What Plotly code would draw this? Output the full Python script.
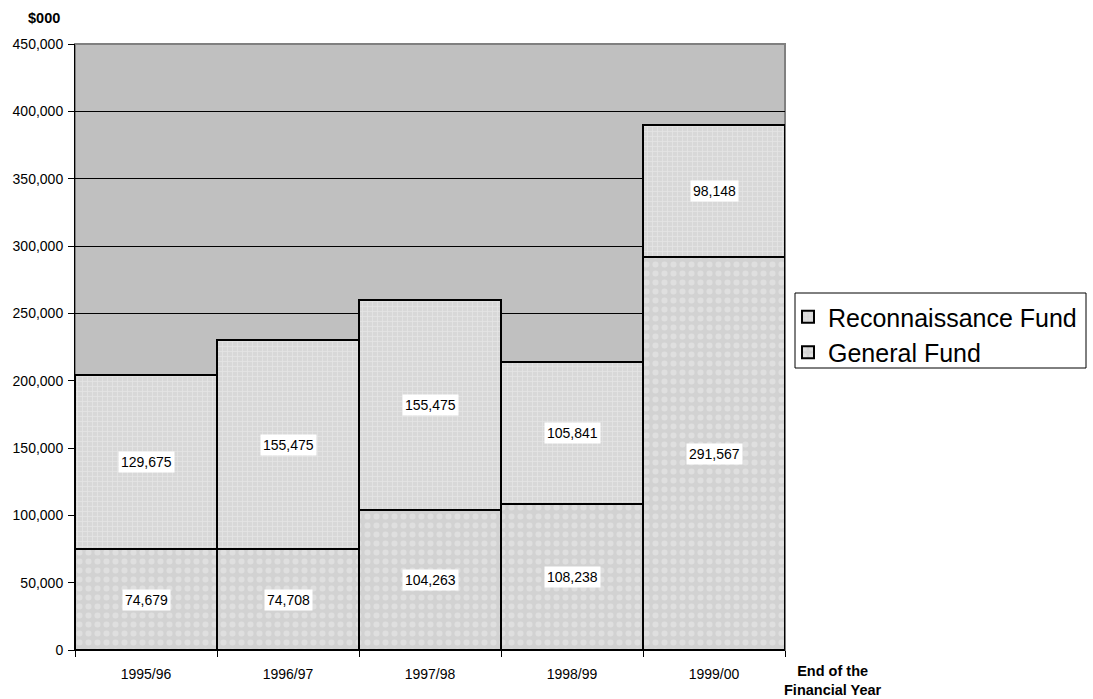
import plotly.graph_objects as go

years = ["1995/96", "1996/97", "1997/98", "1998/99", "1999/00"]
general_fund = [74679, 74708, 104263, 108238, 291567]
reconnaissance_fund = [129675, 155475, 155475, 105841, 98148]
y_ticks = [0, 50000, 100000, 150000, 200000, 250000, 300000, 350000, 400000, 450000]

FONT = "Liberation Sans, Arial, sans-serif"

# plot-area pixel box, used to place paper-referenced items
L, R, T, B = 75, 785, 44, 650
W, H = 1093, 699


def px(x):
    return (x - L) / (R - L)


def py(y):
    return (B - y) / (B - T)


fig = go.Figure()

fig.add_trace(go.Bar(
    name="General Fund",
    x=years,
    y=general_fund,
    marker=dict(
        color="#d6d6d6",
        line=dict(color="black", width=2),
        pattern=dict(shape=".", bgcolor="#d2d2d2", fgcolor="#ececec",
                     size=9, solidity=0.35, fillmode="overlay"),
    ),
))

fig.add_trace(go.Bar(
    name="Reconnaissance Fund",
    x=years,
    y=reconnaissance_fund,
    marker=dict(
        color="#dadada",
        line=dict(color="black", width=2),
        pattern=dict(shape="+", bgcolor="#d8d8d8", fgcolor="#f0f0f0",
                     size=5, solidity=0.3, fillmode="overlay"),
    ),
))

# value labels in white boxes at the middle of each segment
for yr, g, r in zip(years, general_fund, reconnaissance_fund):
    for val, mid in ((g, g / 2), (r, g + r / 2)):
        fig.add_annotation(
            x=yr, y=mid, text=f"{val:,}", showarrow=False,
            bgcolor="white", borderpad=2,
            font=dict(family=FONT, size=14, color="black"),
        )

# plot-area frame on top and right
fig.add_shape(type="rect", xref="paper", yref="paper", x0=0, x1=1, y0=0, y1=1,
              line=dict(color="#808080", width=2), layer="below")

# legend frame
fig.add_shape(type="rect", xref="paper", yref="paper",
              x0=px(795), x1=px(1086), y0=py(368), y1=py(293),
              line=dict(color="black", width=1), fillcolor="rgba(0,0,0,0)")

fig.add_annotation(xref="paper", yref="paper", x=px(26), y=py(18),
                   xanchor="left", yanchor="middle", text="<b>$000</b>",
                   showarrow=False, font=dict(family=FONT, size=14.5, color="black"))
fig.add_annotation(xref="paper", yref="paper", x=px(833), y=py(661),
                   xanchor="center", yanchor="top",
                   text="<b>End of the<br>Financial Year</b>",
                   showarrow=False, font=dict(family=FONT, size=14.5, color="black"))

fig.update_layout(
    width=W, height=H,
    barmode="stack", bargap=0,
    paper_bgcolor="white", plot_bgcolor="#c0c0c0",
    margin=dict(l=L, r=W - R, t=T, b=H - B, autoexpand=False),
    font=dict(family=FONT, size=14, color="black"),
    legend=dict(
        x=px(788), y=py(294), xanchor="left", yanchor="top",
        traceorder="reversed",
        borderwidth=0, bgcolor="rgba(0,0,0,0)",
        font=dict(family=FONT, size=25, color="black"),
        itemwidth=30, tracegroupgap=0,
    ),
    showlegend=True,
)

fig.update_xaxes(
    type="category", tickson="boundaries", ticks="outside", ticklen=6,
    tickcolor="black", showline=True, linecolor="black", linewidth=1,
    showgrid=False, tickfont=dict(family=FONT, size=14),
    ticklabelstandoff=11,
)
fig.update_yaxes(
    range=[0, 450000], tickvals=y_ticks,
    ticktext=[f"{v:,}" for v in y_ticks],
    ticks="outside", ticklen=6, tickcolor="black",
    showline=True, linecolor="black", linewidth=1,
    showgrid=True, gridcolor="black", gridwidth=1,
    zeroline=False, tickfont=dict(family=FONT, size=14),
    ticklabelstandoff=2,
)

fig.write_html("out.html")
